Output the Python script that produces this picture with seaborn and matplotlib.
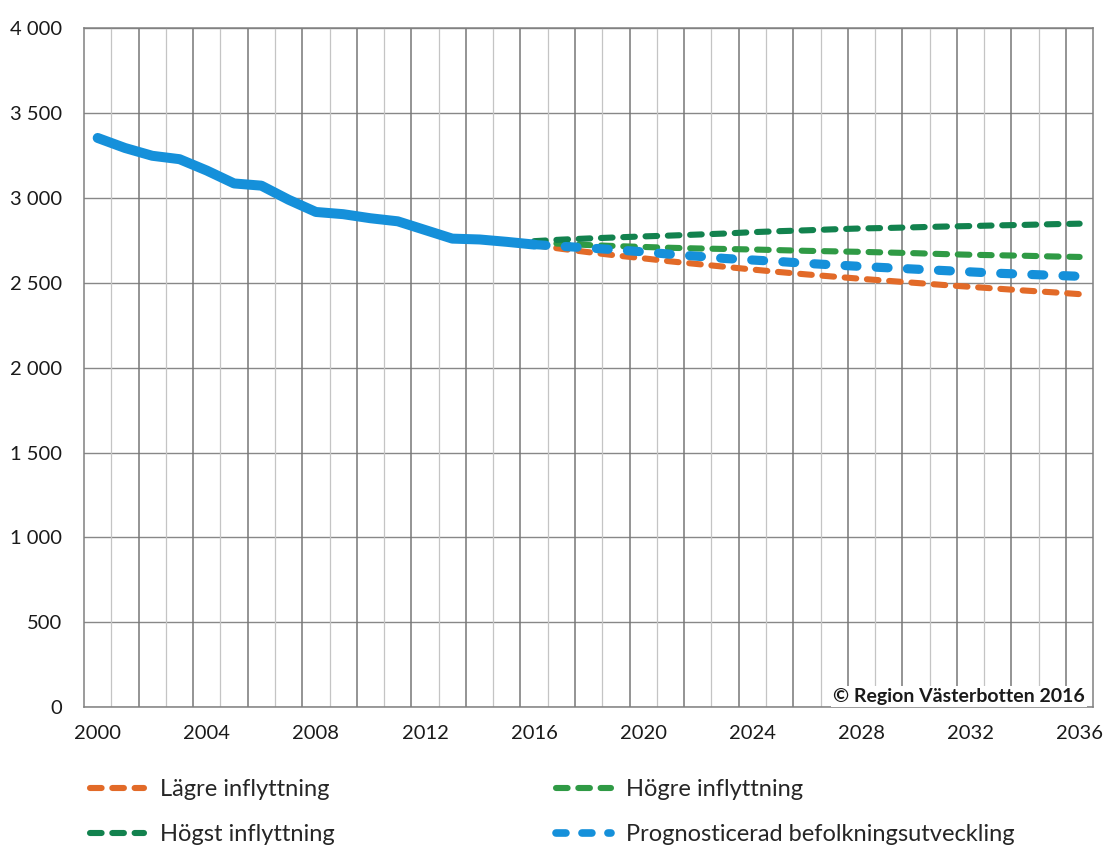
import numpy as np
import pandas as pd
import matplotlib
matplotlib.use("Agg")
import matplotlib.pyplot as plt
from matplotlib.lines import Line2D
from matplotlib.ticker import FuncFormatter
import seaborn as sns

# Historical population 2000-2016
years_hist = list(range(2000, 2017))
pop_hist = [3353, 3294, 3248, 3228, 3161, 3085, 3072, 2989, 2917, 2904,
            2880, 2862, 2811, 2760, 2755, 2741, 2725]

# Projection scenarios 2016-2036
years_proj = list(range(2016, 2037))
lagre = [2722, 2700, 2680, 2661, 2644, 2626, 2610, 2594, 2578, 2563, 2549,
         2536, 2523, 2511, 2499, 2487, 2476, 2465, 2454, 2444, 2433]
hogre = [2735, 2730, 2722, 2716, 2711, 2706, 2702, 2699, 2696, 2692, 2688,
         2685, 2682, 2678, 2674, 2669, 2665, 2662, 2659, 2655, 2652]
hogst = [2745, 2754, 2761, 2767, 2773, 2778, 2784, 2790, 2798, 2804, 2809,
         2815, 2820, 2823, 2827, 2831, 2834, 2838, 2841, 2845, 2848]
prognos = [2725, 2715, 2705, 2694, 2682, 2668, 2656, 2643, 2634, 2625, 2614,
           2605, 2596, 2588, 2580, 2572, 2564, 2556, 2550, 2544, 2538]

labels = ["Lägre inflyttning", "Högre inflyttning", "Högst inflyttning",
          "Prognosticerad befolkningsutveckling"]
x_ticks = list(range(2000, 2037, 4))
y_ticks = list(range(0, 4001, 500))
source_text = "© Region Västerbotten 2016"

c_orange = "#e26a28"
c_green = "#2f9a45"
c_dkgreen = "#12824e"
c_blue = "#1590da"

sns.set_theme(style="white")
plt.rcParams["font.family"] = ["Lato", "DejaVu Sans"]

fig = plt.figure(figsize=(11.03, 8.52), dpi=100)
ax = fig.add_axes([0.0762, 0.170, 0.915, 0.797])

all_years = years_hist + years_proj[1:]
x_lo, x_hi = all_years[0] - 0.5, all_years[-1] + 0.5

# Vertical grid: lines between categories, alternating light / dark
bounds = np.array(all_years[:-1]) + 0.5
ax.vlines(bounds[0::2], 0, 4000, colors="#c4c4c4", lw=0.9, zorder=1)
ax.vlines(bounds[1::2], 0, 4000, colors="#777777", lw=1.1, zorder=1)
ax.set_yticks(y_ticks)
ax.yaxis.grid(True, color="#888888", lw=1.0, zorder=1)
ax.xaxis.grid(False)

proj_df = pd.DataFrame({"year": years_proj, "lagre": lagre, "hogre": hogre,
                        "hogst": hogst, "prognos": prognos})
hist_df = pd.DataFrame({"year": years_hist, "pop": pop_hist})

dash_small = (0, (1.9, 1.75))
dash_blue = (0, (1.3, 2.1))

sns.lineplot(data=proj_df, x="year", y="lagre", ax=ax, color=c_orange,
             lw=4.4, linestyle=dash_small, dash_capstyle="round", zorder=3)
sns.lineplot(data=proj_df, x="year", y="hogre", ax=ax, color=c_green,
             lw=4.4, linestyle=dash_small, dash_capstyle="round", zorder=3)
sns.lineplot(data=proj_df, x="year", y="hogst", ax=ax, color=c_dkgreen,
             lw=4.4, linestyle=dash_small, dash_capstyle="round", zorder=3)
sns.lineplot(data=proj_df, x="year", y="prognos", ax=ax, color=c_blue,
             lw=6.6, linestyle=dash_blue, dash_capstyle="round", zorder=4)
sns.lineplot(data=hist_df, x="year", y="pop", ax=ax, color=c_blue,
             lw=7.2, solid_capstyle="round", solid_joinstyle="round", zorder=5)

ax.set_xlim(x_lo, x_hi)
ax.set_ylim(0, 4000)
ax.set_xticks(x_ticks)
ax.set_xticklabels([str(y) for y in x_ticks])
ax.yaxis.set_major_formatter(FuncFormatter(lambda v, p: f"{int(v):,}".replace(",", " ")))
ax.set_xlabel("")
ax.set_ylabel("")
ax.tick_params(axis="x", length=0, pad=13, labelsize=14.5, colors="#1a1a1a")
ax.tick_params(axis="y", length=0, pad=16, labelsize=14.5, colors="#1a1a1a")
for s in ax.spines.values():
    s.set_visible(True)
    s.set_color("#808080")
    s.set_linewidth(1.1)

ax.text(0.992, 0.003, source_text, transform=ax.transAxes, ha="right",
        va="bottom", fontsize=14, fontweight="bold", color="#1a1a1a",
        bbox=dict(facecolor="white", edgecolor="none", pad=1.5), zorder=6)

handles = [
    Line2D([], [], color=c_orange, lw=4.4, linestyle=dash_small, dash_capstyle="round"),
    Line2D([], [], color=c_dkgreen, lw=4.4, linestyle=dash_small, dash_capstyle="round"),
    Line2D([], [], color=c_green, lw=4.4, linestyle=dash_small, dash_capstyle="round"),
    Line2D([], [], color=c_blue, lw=5.5, linestyle=dash_blue, dash_capstyle="round"),
]
leg_labels = [labels[0], labels[2], labels[1], labels[3]]
fig.legend(handles, leg_labels, ncol=2, loc="upper left",
           bbox_to_anchor=(0.071, 0.099), frameon=False, fontsize=17,
           handlelength=2.3, handletextpad=0.65, columnspacing=9.4,
           labelspacing=1.0, borderpad=0)

fig.savefig("out.png", dpi=100)
